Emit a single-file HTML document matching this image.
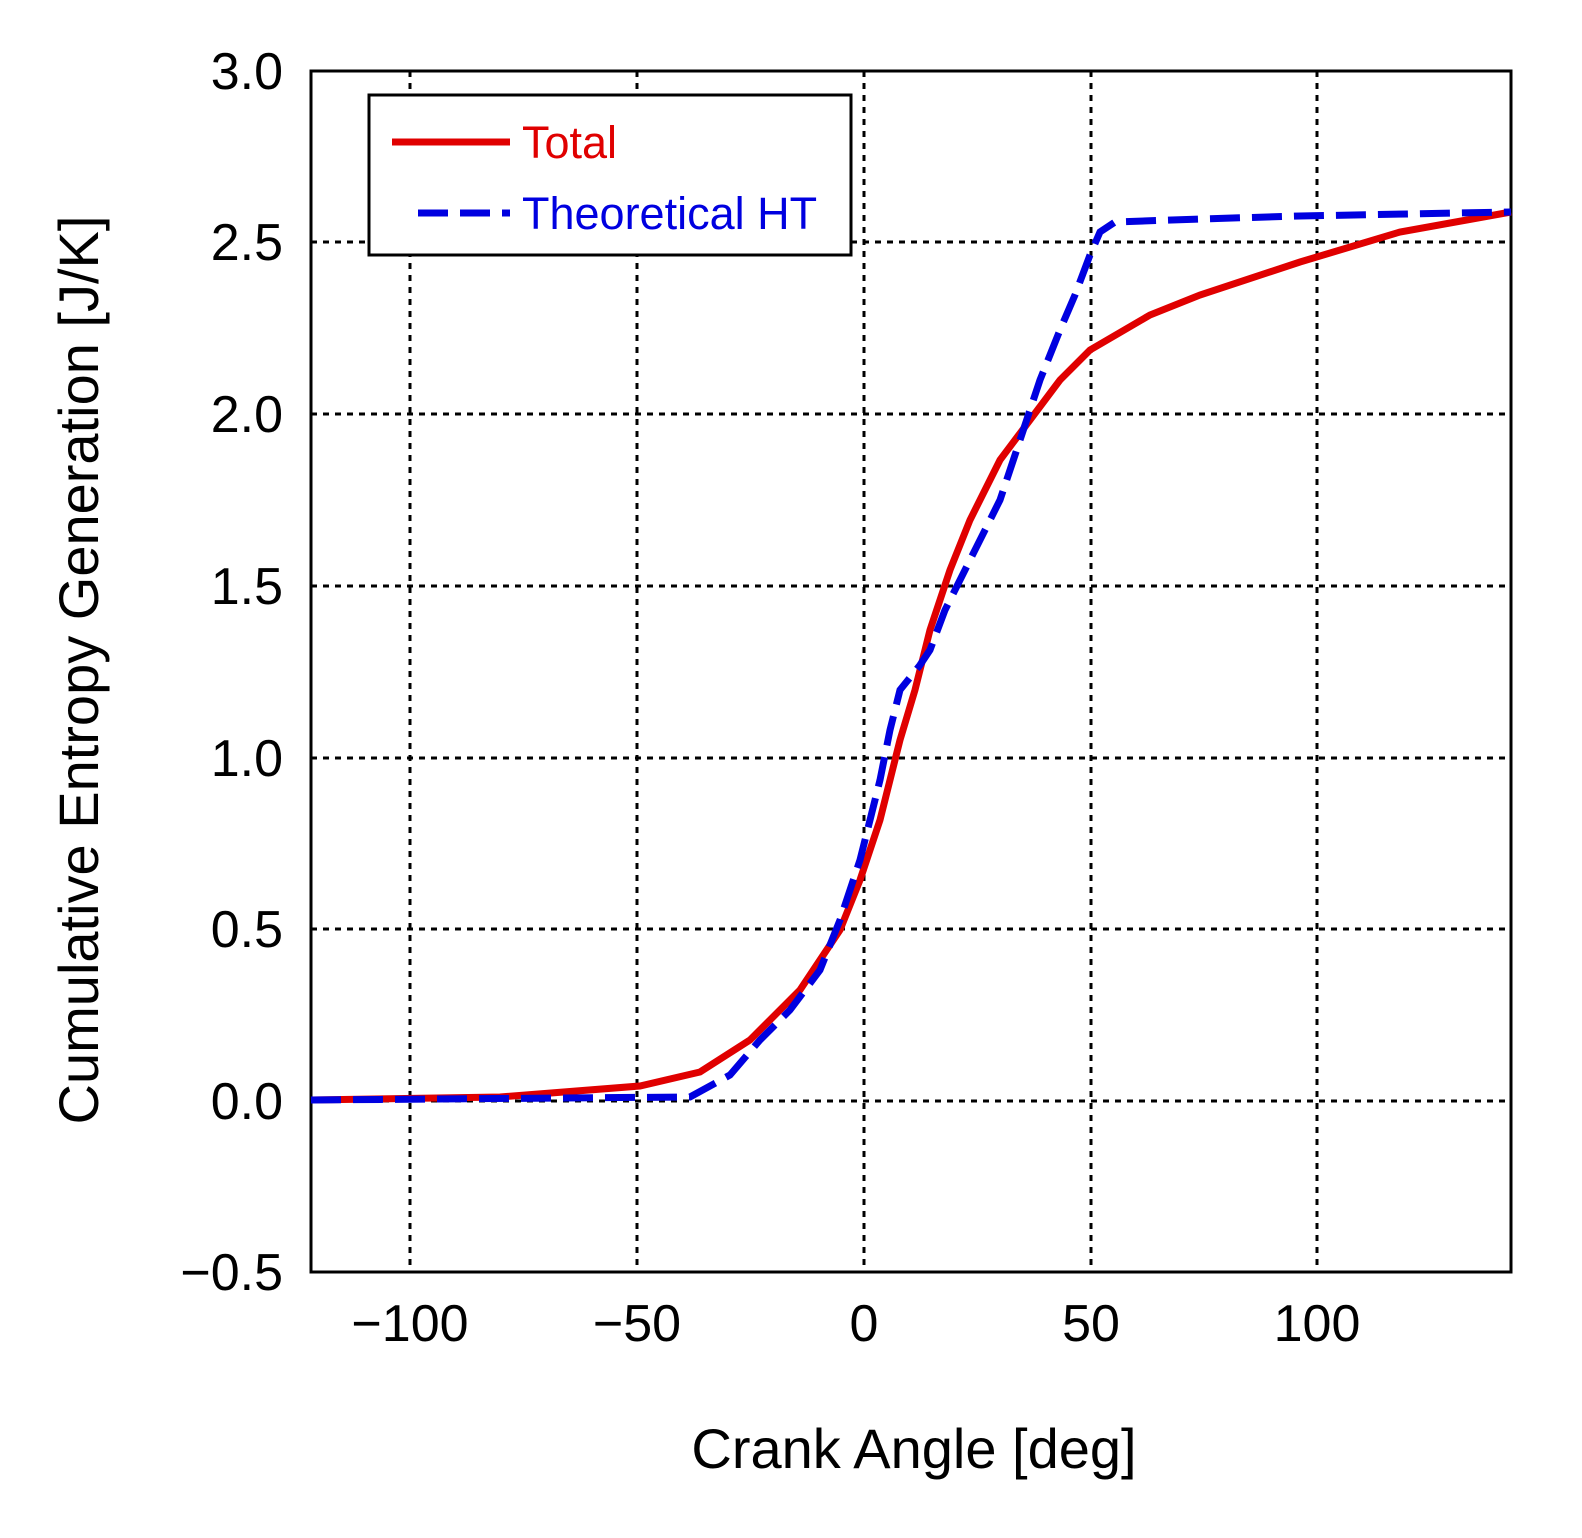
<!DOCTYPE html>
<html><head><style>body{margin:0;background:#fff}</style></head><body>
<svg width="1582" height="1533" xmlns="http://www.w3.org/2000/svg" font-family="Liberation Sans, Arial, sans-serif">
<rect width="1582" height="1533" fill="#fff"/>
<g stroke="#000" stroke-width="3" stroke-dasharray="6,6">
<line x1="410" y1="71" x2="410" y2="1272"/>
<line x1="637" y1="71" x2="637" y2="1272"/>
<line x1="864" y1="71" x2="864" y2="1272"/>
<line x1="1091" y1="71" x2="1091" y2="1272"/>
<line x1="1317" y1="71" x2="1317" y2="1272"/>
<line x1="311" y1="242" x2="1511" y2="242"/>
<line x1="311" y1="414" x2="1511" y2="414"/>
<line x1="311" y1="586" x2="1511" y2="586"/>
<line x1="311" y1="758" x2="1511" y2="758"/>
<line x1="311" y1="929" x2="1511" y2="929"/>
<line x1="311" y1="1101" x2="1511" y2="1101"/>
</g>
<rect x="311" y="71" width="1200" height="1201" fill="none" stroke="#000" stroke-width="3"/>
<polyline fill="none" stroke="#e00000" stroke-width="7" points="311,1100 500,1097 640,1086 700,1072 750,1040 800,990 840,930 860,880 880,820 900,740 915,690 930,630 950,570 970,520 1000,460 1030,420 1060,380 1090,350 1150,315 1200,295 1300,262 1400,232 1511,212"/>
<polyline fill="none" stroke="#0000e0" stroke-width="7" stroke-dasharray="30,12" points="311,1100 690,1097 730,1075 760,1040 790,1010 820,970 840,920 860,860 870,820 880,780 890,730 900,690 920,665 930,650 945,610 970,560 1000,500 1020,440 1040,380 1060,330 1075,295 1090,255 1100,232 1115,222 1200,219 1300,216 1511,212"/>
<rect x="369" y="95" width="482" height="160" fill="#fff" stroke="#000" stroke-width="3"/>
<line x1="392" y1="142" x2="510" y2="142" stroke="#e00000" stroke-width="7"/>
<text x="522" y="158" font-size="45" fill="#e00000">Total</text>
<line x1="418" y1="213" x2="510" y2="213" stroke="#0000e0" stroke-width="7" stroke-dasharray="30,12"/>
<text x="522" y="229" font-size="45" fill="#0000e0">Theoretical HT</text>
<g font-size="52" text-anchor="end">
<text x="283" y="89">3.0</text>
<text x="283" y="260">2.5</text>
<text x="283" y="432">2.0</text>
<text x="283" y="604">1.5</text>
<text x="283" y="776">1.0</text>
<text x="283" y="947">0.5</text>
<text x="283" y="1119">0.0</text>
<text x="283" y="1290">−0.5</text>
</g>
<g font-size="52" text-anchor="middle">
<text x="410" y="1341">−100</text>
<text x="637" y="1341">−50</text>
<text x="864" y="1341">0</text>
<text x="1091" y="1341">50</text>
<text x="1317" y="1341">100</text>
</g>
<text x="914" y="1468" font-size="56" text-anchor="middle">Crank Angle [deg]</text>
<text transform="translate(98,670) rotate(-90)" font-size="56" text-anchor="middle">Cumulative Entropy Generation [J/K]</text>
</svg>
</body></html>
